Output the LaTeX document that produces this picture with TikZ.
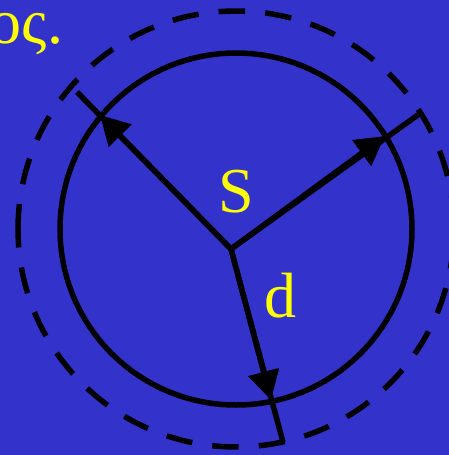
\documentclass[tikz,border=0pt]{standalone}
\usepackage{fontspec}
\setmainfont{Liberation Serif}
\usetikzlibrary{arrows.meta}
\definecolor{bgblue}{RGB}{51,51,204}
\definecolor{txtyellow}{RGB}{255,255,0}
\begin{document}
\begin{tikzpicture}[x=1pt,y=-1pt,
  thickline/.style={line width=5.5pt},
  arr/.style={thickline, -{Triangle[length=29pt,width=31pt]}},
  lbl/.style={text=txtyellow, font=\fontsize{64}{64}\selectfont, inner sep=0pt}]
\fill[bgblue] (0,0) rectangle (449,455);
\useasboundingbox (0,0) rectangle (449,455);
\coordinate (O) at (236,229);
\coordinate (C) at (231,249);
\coordinate (TUL) at (100,115);
\coordinate (EUL) at (77,92);
\coordinate (TUR) at (385,136);
\coordinate (EUR) at (422,112);
\coordinate (TB) at (271,400);
\coordinate (EB) at (283,442);
% circles
\draw[thickline] (O) circle[radius=176];
\draw[thickline, dash pattern=on 26.5pt off 20.15pt] (O) ++(179.6:218) arc[start angle=179.6, end angle=539.6, radius=218];
% radii
\draw[thickline] (C) -- (EUL);
\draw[thickline] (C) -- (EUR);
\draw[thickline] (C) -- (EB);
\fill (C) circle[radius=2.75];
\draw[arr] (C) -- (TUL);
\draw[arr] (C) -- (TUR);
\draw[arr] (C) -- (TB);
% labels
\node[lbl, anchor=base] (S) at (236.7,212) {S};
\node[lbl, anchor=base] (D) at (280,317) {d};
\node[lbl, anchor=base east] (T) at (63.5,43) {ος.};
\end{tikzpicture}
\end{document}
